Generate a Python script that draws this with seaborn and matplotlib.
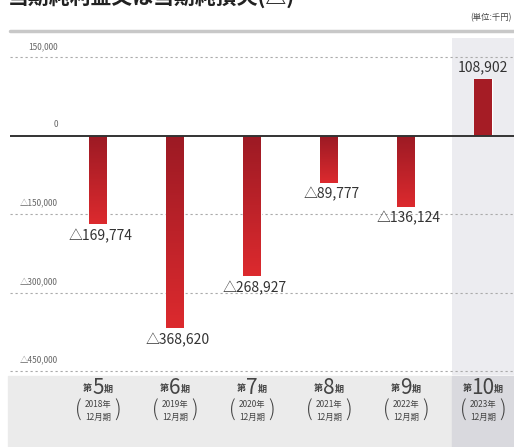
import numpy as np
import pandas as pd
import matplotlib
matplotlib.use("Agg")
import matplotlib.pyplot as plt
import seaborn as sns
from matplotlib.colors import LinearSegmentedColormap
from matplotlib.patches import Rectangle

# data (千円)
periods = ['第5期', '第6期', '第7期', '第8期', '第9期', '第10期']
period_nums = ['5', '6', '7', '8', '9', '10']
years = ['2018年', '2019年', '2020年', '2021年', '2022年', '2023年']
values = [-169774, -368620, -268927, -89777, -136124, 108902]
yticks = [150000, 0, -150000, -300000, -450000]
ytick_labels = ['150,000', '0', '△150,000', '△300,000', '△450,000']

df = pd.DataFrame({'period': periods, 'value': values})

sns.set_theme(style='white')
plt.rcParams['font.family'] = ['Noto Sans CJK JP', 'DejaVu Sans']

W, H = 514, 447
fig = plt.figure(figsize=(W / 100, H / 100), dpi=100)
ax = fig.add_axes([10 / W, 1 - 375 / H, 1 - 10 / W, (375 - 38) / H])


def fx(px):
    return px / W


def fy(py):
    return 1 - py / H


# bottom band behind the category labels
fig.patches.append(Rectangle((fx(8), fy(447)), fx(514 - 8), (447 - 376) / H,
                             transform=fig.transFigure, color='#ebebeb', zorder=0))
fig.patches.append(Rectangle((fx(452), fy(447)), fx(514 - 452), (447 - 376) / H,
                             transform=fig.transFigure, color='#d9d9de', zorder=0))

sns.barplot(data=df, x='period', y='value', order=periods, width=0.23,
            color='#b01e27', saturation=1, ax=ax, zorder=3)

ax.axvspan(4.6, 5.45, color='#ececf0', zorder=0, lw=0)

# gradient on bars
cmap = LinearSegmentedColormap.from_list('rd', ['#9c1a24', '#dc2a2e'])
for p, v in zip(ax.patches, values):
    x0, w = p.get_x(), p.get_width()
    y0, h = p.get_y(), p.get_height()
    grad = np.linspace(0, 1, 100).reshape(-1, 1)
    if v > 0:
        grad = np.full_like(grad, 0.15)
    im = ax.imshow(grad, aspect='auto', cmap=cmap, vmin=0, vmax=1,
                   extent=[x0, x0 + w, min(y0, y0 + h), max(y0, y0 + h)],
                   origin='upper' if v < 0 else 'lower', zorder=3.5)
    im.set_clip_path(p)
ax.set_xlim(-1.143, 5.403)
ax.set_ylim(-457700, 186500)

# grid
for t in yticks:
    if t == 0:
        ax.axhline(0, color='#333333', lw=1.4, zorder=4)
    else:
        ax.axhline(t, color='#aaaaaa', lw=0.8, ls=(0, (2, 2.5)), zorder=1)

ax.set_yticks([])
ax.set_xticks([])
ax.set_xlabel('')
ax.set_ylabel('')
for s in ax.spines.values():
    s.set_visible(False)

# y tick labels (placed just above gridlines)
trans = ax.get_yaxis_transform()
for t, lab in zip(yticks, ytick_labels):
    ax.text((58 - 10) / (W - 10), t + 12000, lab, transform=trans,
            ha='right', va='bottom', fontsize=6, color='#666666', zorder=5)

# value labels
for i, v in enumerate(values):
    if v < 0:
        ax.text(i + 0.03, v - 9000, '△{:,}'.format(-v), ha='center', va='top',
                fontsize=10, color='#333333', zorder=5)
    else:
        ax.text(i, v + 9000, '{:,}'.format(v), ha='center', va='bottom',
                fontsize=10, color='#333333', zorder=5)

# category labels
for i, (num, yr) in enumerate(zip(period_nums, years)):
    cx = 98 + 77 * i
    nw = 10 * len(num)
    fig.text(fx(cx - nw / 2 - 1), fy(389), '第', ha='right', va='center',
             fontsize=6.5, color='#444444', fontweight='bold')
    fig.text(fx(cx), fy(388), num, ha='center', va='center',
             fontsize=15, color='#444444')
    fig.text(fx(cx + nw / 2 + 1), fy(389), '期', ha='left', va='center',
             fontsize=6.5, color='#444444', fontweight='bold')
    fig.text(fx(cx), fy(405), yr, ha='center', va='center',
             fontsize=6, color='#444444')
    fig.text(fx(cx), fy(417), '12月期', ha='center', va='center',
             fontsize=6, color='#444444')
    fig.text(fx(cx - 20), fy(411), '(', ha='center', va='center',
             fontsize=15, color='#444444', fontweight='light')
    fig.text(fx(cx + 20), fy(411), ')', ha='center', va='center',
             fontsize=15, color='#444444', fontweight='light')

# header (cut off at the top edge, as in the source image)
fig.text(fx(8), fy(9), '当期純利益又は当期純損失(△)', ha='left', va='bottom',
         fontsize=15, fontweight='bold', color='#222222')
fig.text(fx(512), fy(18), '(単位:千円)', ha='right', va='center',
         fontsize=6, color='#444444')
fig.add_artist(plt.Line2D([fx(10), 1], [fy(31), fy(31)], color='#c8c8c8', lw=2.5))

fig.savefig('out.png', dpi=100)
